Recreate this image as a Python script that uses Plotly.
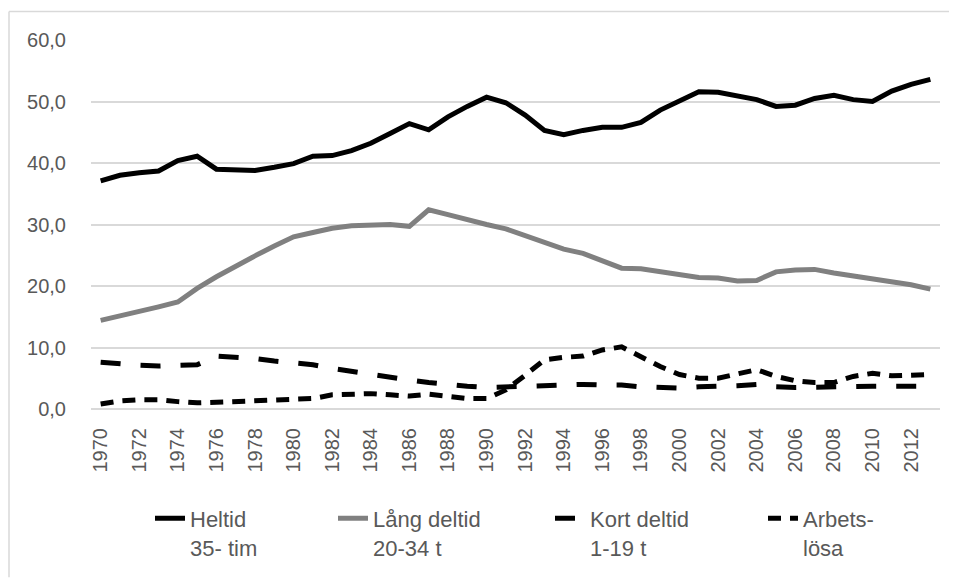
import plotly.graph_objects as go

years = list(range(1970, 2014))

heltid = [37.1, 38.0, 38.4, 38.7, 40.4, 41.1, 39.0, 38.8, 38.8, 39.3,
          39.9, 41.1, 41.2, 42.0, 43.2, 44.8, 46.4, 45.4, 47.5, 49.2,
          50.7, 49.8, 47.8, 45.3, 44.6, 45.3, 45.8, 45.8, 46.6, 48.6,
          50.1, 51.6, 51.5, 51.0, 50.3, 49.2, 49.4, 50.5, 51.0, 50.3,
          50.0, 51.7, 52.8, 53.6]

lang_deltid = [14.4, 15.1, 15.7, 16.6, 17.4, 19.6, 21.5, 23.3, 24.9, 26.5,
               28.0, 28.7, 29.4, 29.8, 29.8, 30.0, 29.7, 32.4, 31.6, 30.7,
               30.0, 29.3, 28.2, 27.2, 26.0, 25.3, 24.0, 22.9, 22.8, 22.3,
               21.9, 21.4, 21.3, 20.8, 20.9, 22.3, 22.6, 22.7, 22.1, 21.6,
               21.2, 20.8, 20.2, 19.5]

kort_deltid = [7.6, 7.3, 7.1, 7.0, 7.0, 7.2, 8.6, 8.5, 8.2, 7.8,
               7.5, 7.2, 6.6, 6.1, 5.5, 5.0, 4.7, 4.3, 3.9, 3.7,
               3.5, 3.6, 3.8, 3.9, 3.9, 4.0, 3.9, 3.9, 3.6, 3.4,
               3.4, 3.6, 3.6, 3.8, 4.0, 3.6, 3.5, 3.6, 3.7, 3.7,
               3.7, 3.7, 3.7, 3.7]

arbetslosa = [0.8, 1.3, 1.5, 1.5, 1.2, 1.0, 1.1, 1.2, 1.4, 1.5,
              1.4, 1.7, 2.3, 2.5, 2.5, 2.3, 2.1, 2.4, 2.0, 1.7,
              1.7, 3.1, 5.5, 8.0, 8.4, 8.6, 9.6, 10.1, 8.5, 6.9,
              5.6, 5.0, 5.0, 5.6, 6.4, 5.3, 4.6, 4.3, 4.3, 5.3,
              5.8, 5.4, 5.4, 5.6]

names = ["Heltid<br>35- tim", "Lång deltid<br>20-34 t",
         "Kort deltid<br>1-19 t", "Arbets-<br>lösa"]

y_ticks = [0, 10, 20, 30, 40, 50, 60]
x_ticks = list(range(1970, 2013, 2))

TXT = "#595959"
GRID = "#d9d9d9"
FONT = "Liberation Sans, Arial, sans-serif"

# page body margin of the html page (8px) is compensated here
OFF = 8
W, H = 957, 581
plot_l, plot_r, plot_t, plot_b = 91, 940, 40, 415
pw = plot_r - plot_l
ph = plot_b - plot_t


def px_x(sx):
    return (sx - plot_l) / pw


def px_y(sy):
    return (plot_b - sy) / ph


fig = go.Figure()
series = [heltid, lang_deltid, kort_deltid, arbetslosa]
styles = [
    dict(color="#000000", width=5, dash="solid"),
    dict(color="#808080", width=5, dash="solid"),
    dict(color="#000000", width=5, dash="20px,20px"),
    dict(color="#000000", width=5, dash="13px,9px"),
]
legends = ["legend", "legend2", "legend3", "legend4"]
for vals, nm, st, lg in zip(series, names, styles, legends):
    fig.add_trace(go.Scatter(x=years, y=vals, name=nm, mode="lines",
                             line=st, legend=lg, hoverinfo="skip"))

text_x = [190, 373, 590, 803]
leg_common = dict(orientation="v", yanchor="top", xanchor="left",
                  valign="top", bgcolor="rgba(0,0,0,0)", itemwidth=30,
                  font=dict(family=FONT, size=22, color=TXT), tracegroupgap=0)
leg_layout = {}
for lg, tx in zip(legends, text_x):
    d = dict(leg_common)
    d.update(x=px_x(tx - 40), y=px_y(505))
    leg_layout[lg] = d

fig.update_layout(
    width=W - OFF, height=H - OFF,
    margin=dict(l=plot_l - OFF, r=W - plot_r, t=plot_t - OFF,
                b=(H - OFF) - (plot_b - OFF), pad=0),
    paper_bgcolor="white", plot_bgcolor="white",
    separators=", ",
    font=dict(family=FONT, size=20, color=TXT),
    showlegend=True,
    **leg_layout,
    xaxis=dict(range=[1969.5, 2013.5], tickmode="array", tickvals=x_ticks,
               ticktext=[str(v) for v in x_ticks], tickangle=-90,
               showgrid=False, zeroline=False, showline=False,
               ticks="outside", ticklen=10, tickcolor="rgba(0,0,0,0)",
               tickfont=dict(family=FONT, size=20, color=TXT)),
    yaxis=dict(range=[0, 60], tickmode="array", tickvals=y_ticks,
               tickformat=".1f", showgrid=True, gridcolor=GRID, gridwidth=1.5,
               zeroline=True, zerolinecolor=GRID, zerolinewidth=1.5,
               showline=False, ticks="outside", ticklen=20,
               tickcolor="rgba(0,0,0,0)",
               tickfont=dict(family=FONT, size=20, color=TXT)),
    shapes=[
        dict(type="line", xref="paper", yref="paper",
             x0=px_x(9), x1=px_x(W + 5), y0=px_y(11), y1=px_y(11),
             line=dict(color=GRID, width=1.5)),
        dict(type="line", xref="paper", yref="paper",
             x0=px_x(9), x1=px_x(9), y0=px_y(11), y1=px_y(H + 5),
             line=dict(color=GRID, width=1.5)),
    ],
)

fig.write_html("out.html")
